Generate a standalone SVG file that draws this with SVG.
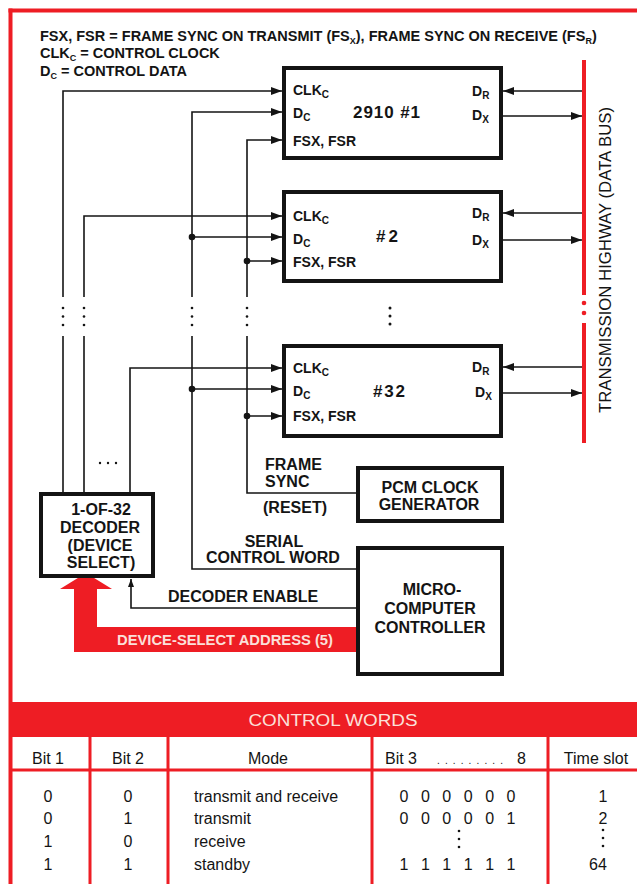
<svg xmlns="http://www.w3.org/2000/svg" width="637" height="884" viewBox="0 0 637 884">
<defs>
<style>
.t{font-family:"Liberation Sans",Arial,sans-serif;font-weight:bold;fill:#141414}
.n{font-family:"Liberation Sans",Arial,sans-serif;font-weight:normal;fill:#141414}
.box{fill:#fff;stroke:#141414;stroke-width:4}
.w{fill:none;stroke:#141414;stroke-width:1.6}
.k{fill:#141414}
.red{fill:#ee1d24}
.rl{stroke:#ee1d24;stroke-width:3;fill:none}
.s{font-size:10px}
.ss{font-size:9px}
</style>
<marker id="arr" markerUnits="userSpaceOnUse" markerWidth="12" markerHeight="9" refX="11" refY="4" orient="auto">
<path d="M0,0 L11,4 L0,8 z" fill="#141414"/>
</marker>
<marker id="arrs" markerUnits="userSpaceOnUse" markerWidth="9" markerHeight="7" refX="8" refY="3" orient="auto">
<path d="M0,0 L8,3 L0,6 z" fill="#141414"/>
</marker>
</defs>
<rect width="637" height="884" fill="#fff"/>
<g id="frame">
<rect class="red" x="8.5" y="8.5" width="628.5" height="4"/>
<rect class="red" x="8.5" y="8.5" width="4" height="875.5"/>
</g>
<g id="legend" font-size="14.5">
<text class="t" x="40" y="41">FSX, FSR = FRAME SYNC ON TRANSMIT (FS<tspan class="ss" dy="2.5">X</tspan><tspan dy="-2.5">), FRAME SYNC ON RECEIVE (FS</tspan><tspan class="ss" dy="2.5">R</tspan><tspan dy="-2.5">)</tspan></text>
<text class="t" x="40" y="58">CLK<tspan class="ss" dy="2.5">C</tspan><tspan dy="-2.5"> = CONTROL CLOCK</tspan></text>
<text class="t" x="40" y="76">D<tspan class="ss" dy="2.5">C</tspan><tspan dy="-2.5"> = CONTROL DATA</tspan></text>
</g>
<g id="bus">
<rect class="red" x="582" y="60" width="4" height="235"/>
<circle class="red" cx="584" cy="303" r="2.3"/>
<circle class="red" cx="584" cy="313" r="2.3"/>
<rect class="red" x="582" y="323" width="4" height="120"/>
<text class="n" font-size="16.5" text-anchor="middle" transform="translate(611,260) rotate(-90)" textLength="306" lengthAdjust="spacingAndGlyphs">TRANSMISSION HIGHWAY (DATA BUS)</text>
</g>
<g id="connectors">
<path class="w" d="M63,297 V91 H282" marker-end="url(#arr)"/>
<path class="w" d="M63,336 V494"/>
<path class="w" d="M84,297 V216 H282" marker-end="url(#arr)"/>
<path class="w" d="M84,336 V494"/>
<path class="w" d="M130,494 V368 H282" marker-end="url(#arr)"/>
<path class="w" d="M192,297 V112 H282" marker-end="url(#arr)"/>
<path class="w" d="M192,237 H282" marker-end="url(#arr)"/>
<path class="w" d="M192,389 H282" marker-end="url(#arr)"/>
<path class="w" d="M192,336 V569 H358"/>
<path class="w" d="M247,297 V140 H282" marker-end="url(#arr)"/>
<path class="w" d="M247,261 H282" marker-end="url(#arr)"/>
<path class="w" d="M247,416 H282" marker-end="url(#arr)"/>
<path class="w" d="M247,336 V493 H358"/>
<path class="w" d="M582,91 H503" marker-end="url(#arr)"/>
<path class="w" d="M503,116 H582" marker-end="url(#arr)"/>
<path class="w" d="M582,213 H503" marker-end="url(#arr)"/>
<path class="w" d="M503,240 H582" marker-end="url(#arr)"/>
<path class="w" d="M582,367 H503" marker-end="url(#arr)"/>
<path class="w" d="M503,393 H582" marker-end="url(#arr)"/>
<path class="w" d="M358,608 H131 V579" marker-end="url(#arrs)"/>
<circle class="k" cx="192" cy="237" r="3.3"/>
<circle class="k" cx="192" cy="389" r="3.3"/>
<circle class="k" cx="247" cy="261" r="3.3"/>
<circle class="k" cx="247" cy="416" r="3.3"/>
<g class="k">
<circle cx="63" cy="308" r="1.3"/><circle cx="63" cy="316.5" r="1.3"/><circle cx="63" cy="325" r="1.3"/>
<circle cx="84" cy="308" r="1.3"/><circle cx="84" cy="316.5" r="1.3"/><circle cx="84" cy="325" r="1.3"/>
<circle cx="192" cy="308" r="1.3"/><circle cx="192" cy="316.5" r="1.3"/><circle cx="192" cy="325" r="1.3"/>
<circle cx="247" cy="308" r="1.3"/><circle cx="247" cy="316.5" r="1.3"/><circle cx="247" cy="325" r="1.3"/>
<circle cx="390" cy="308" r="1.5"/><circle cx="390" cy="316" r="1.5"/><circle cx="390" cy="324" r="1.5"/>
<circle cx="100" cy="463" r="1.2"/><circle cx="108" cy="463" r="1.2"/><circle cx="116" cy="463" r="1.2"/>
</g>
<path class="red" d="M60,589 L86,573 L112,589 L97,589 L97,627 L360,627 L360,652 L74,652 L74,589 Z"/>
<text class="t" x="117" y="645" font-size="14.5" style="fill:#fbe0da" textLength="216" lengthAdjust="spacingAndGlyphs">DEVICE-SELECT ADDRESS (5)</text>
<g font-size="16">
<text class="t" x="265" y="470">FRAME</text>
<text class="t" x="265" y="487">SYNC</text>
<text class="t" x="263" y="513">(RESET)</text>
<text class="t" x="274" y="547" text-anchor="middle">SERIAL</text>
<text class="t" x="206" y="563">CONTROL WORD</text>
<text class="t" x="168" y="602">DECODER ENABLE</text>
</g>
</g>
<g id="chip1">
<rect class="box" x="284" y="68" width="217" height="90"/>
<g font-size="14">
<text class="t" x="293" y="95">CLK<tspan class="s" dy="3">C</tspan></text>
<text class="t" x="293" y="118">D<tspan class="s" dy="3">C</tspan></text>
<text class="t" x="293" y="146">FSX, FSR</text>
<text class="t" x="472" y="96">D<tspan class="s" dy="3">R</tspan></text>
<text class="t" x="472" y="120">D<tspan class="s" dy="3">X</tspan></text>
</g>
<text class="t" x="353" y="118" font-size="17" textLength="67" lengthAdjust="spacing">2910 #1</text>
</g>
<g id="chip2">
<rect class="box" x="284" y="192" width="217" height="89"/>
<g font-size="14">
<text class="t" x="293" y="221">CLK<tspan class="s" dy="3">C</tspan></text>
<text class="t" x="293" y="244">D<tspan class="s" dy="3">C</tspan></text>
<text class="t" x="293" y="267">FSX, FSR</text>
<text class="t" x="472" y="218">D<tspan class="s" dy="3">R</tspan></text>
<text class="t" x="472" y="245">D<tspan class="s" dy="3">X</tspan></text>
</g>
<text class="t" x="376" y="242" font-size="17" textLength="22" lengthAdjust="spacing">#2</text>
</g>
<g id="chip32">
<rect class="box" x="284" y="346" width="217" height="90"/>
<g font-size="14">
<text class="t" x="293" y="373">CLK<tspan class="s" dy="3">C</tspan></text>
<text class="t" x="293" y="396">D<tspan class="s" dy="3">C</tspan></text>
<text class="t" x="293" y="421">FSX, FSR</text>
<text class="t" x="472" y="372">D<tspan class="s" dy="3">R</tspan></text>
<text class="t" x="475" y="397">D<tspan class="s" dy="3">X</tspan></text>
</g>
<text class="t" x="373" y="397" font-size="17" textLength="32" lengthAdjust="spacing">#32</text>
</g>
<g id="pcm-clock">
<rect class="box" x="358" y="468" width="144" height="53"/>
<g font-size="16" text-anchor="middle">
<text class="t" x="430" y="493">PCM CLOCK</text>
<text class="t" x="429" y="510">GENERATOR</text>
</g>
</g>
<g id="controller">
<rect class="box" x="358" y="548" width="144" height="126"/>
<g font-size="16" text-anchor="middle">
<text class="t" x="432" y="595">MICRO-</text>
<text class="t" x="430" y="614">COMPUTER</text>
<text class="t" x="430" y="633">CONTROLLER</text>
</g>
</g>
<g id="decoder">
<rect class="box" x="41" y="494" width="112" height="82"/>
<g font-size="16" text-anchor="middle">
<text class="t" x="101" y="515">1-OF-32</text>
<text class="t" x="100" y="533">DECODER</text>
<text class="t" x="100" y="551">(DEVICE</text>
<text class="t" x="101" y="568">SELECT)</text>
</g>
</g>
<g id="table">
<rect class="red" x="10" y="702" width="627" height="35"/>
<text class="n" x="333" y="726" font-size="16" text-anchor="middle" style="fill:#fbe0da" textLength="169" lengthAdjust="spacingAndGlyphs">CONTROL WORDS</text>
<path class="rl" d="M10,770 H637 M90,737 V884 M168,737 V884 M372,737 V884 M548,737 V884"/>
<g font-size="16">
<text class="n" x="48" y="764" text-anchor="middle">Bit 1</text>
<text class="n" x="128" y="764" text-anchor="middle">Bit 2</text>
<text class="n" x="268" y="764" text-anchor="middle">Mode</text>
<text class="n" x="385" y="764">Bit 3</text>
<text class="n" x="437" y="764" font-size="10" textLength="66" lengthAdjust="spacing">.........</text>
<text class="n" x="517" y="764">8</text>
<text class="n" x="596" y="764" text-anchor="middle">Time slot</text>
<g text-anchor="middle">
<text class="n" x="48" y="802">0</text>
<text class="n" x="48" y="824">0</text>
<text class="n" x="48" y="847">1</text>
<text class="n" x="48" y="870">1</text>
<text class="n" x="128" y="802">0</text>
<text class="n" x="128" y="824">1</text>
<text class="n" x="128" y="847">0</text>
<text class="n" x="128" y="870">1</text>
<text class="n" x="603" y="802">1</text>
<text class="n" x="603" y="824">2</text>
<text class="n" x="598" y="870">64</text>
</g>
<text class="n" x="194" y="802">transmit and receive</text>
<text class="n" x="194" y="824">transmit</text>
<text class="n" x="194" y="847">receive</text>
<text class="n" x="194" y="870">standby</text>
<text class="n" x="399.5" y="802" textLength="116" lengthAdjust="spacing">0 0 0 0 0 0</text>
<text class="n" x="399.5" y="824" textLength="116" lengthAdjust="spacing">0 0 0 0 0 1</text>
<text class="n" x="399.5" y="870" textLength="116" lengthAdjust="spacing">1 1 1 1 1 1</text>
</g>
<g class="k">
<circle cx="459" cy="831" r="1.3"/><circle cx="459" cy="839" r="1.3"/><circle cx="459" cy="847" r="1.3"/>
<circle cx="603" cy="830" r="1.3"/><circle cx="603" cy="838" r="1.3"/><circle cx="603" cy="846" r="1.3"/>
</g>
</g>
</svg>
